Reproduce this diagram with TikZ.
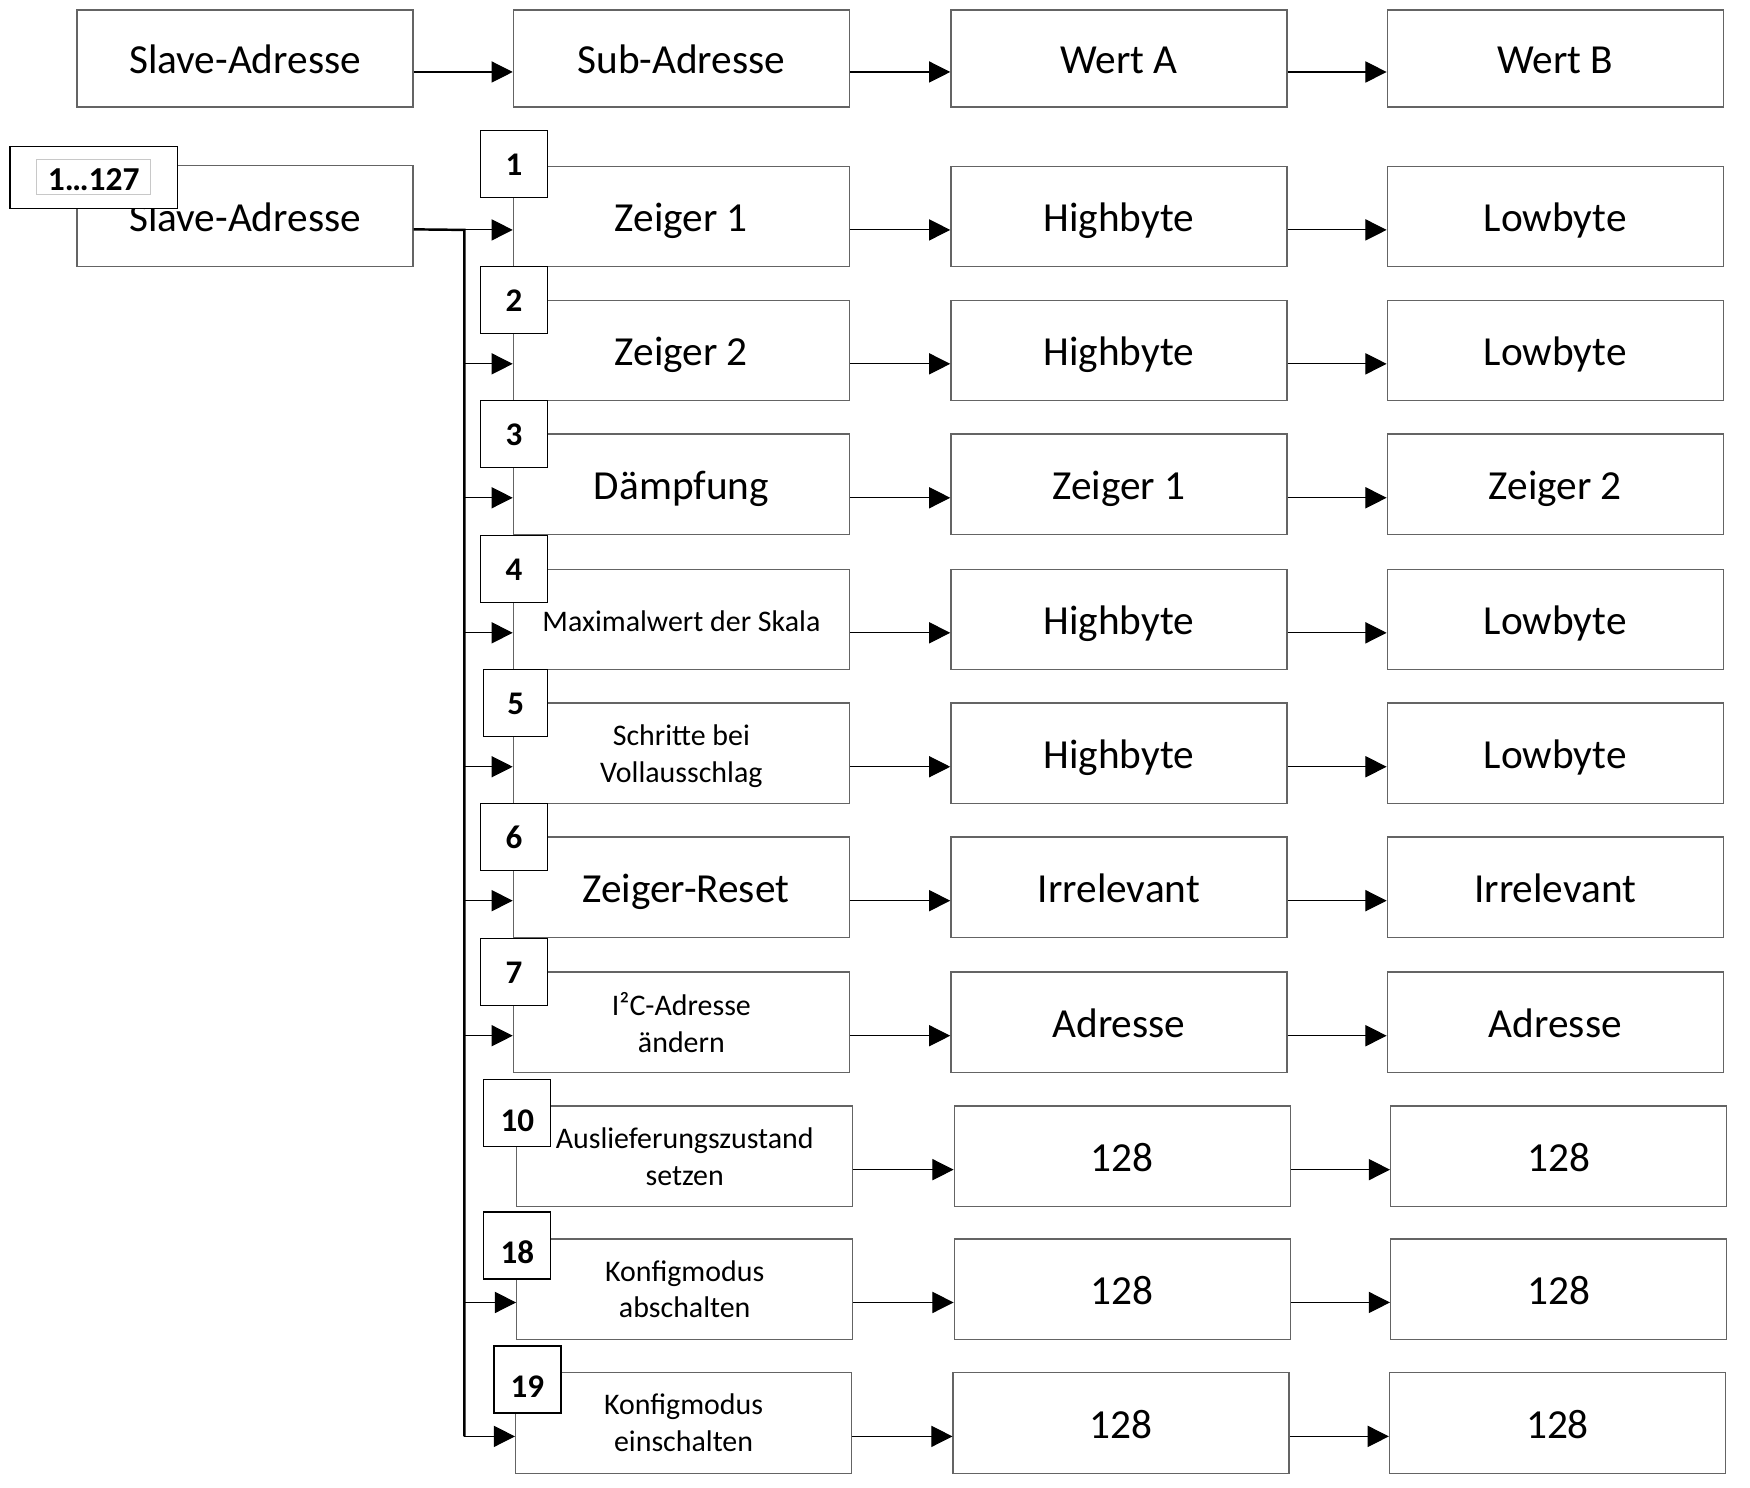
\documentclass[tikz,border=0pt]{standalone}
\usepackage{fontspec}
\setmainfont{Carlito}
\usetikzlibrary{arrows.meta,calc}
\definecolor{boxgray}{RGB}{100,100,100}
\definecolor{lightframe}{RGB}{200,200,200}
\begin{document}
\begin{tikzpicture}[x=0.5pt,y=-0.5pt,
  box/.style={draw=boxgray, line width=0.6pt, fill=white, minimum width=150.5pt, minimum height=45pt, inner sep=0pt, align=center, font=\fontsize{18.5}{22}\selectfont, text height=14.5pt, text depth=1pt},
  hbox/.style={box, minimum height=43.5pt},
  sbox/.style={box, font=\fontsize{13.4}{16.5}\selectfont, text height=, text depth=0pt},
  s1box/.style={box, font=\fontsize{13.4}{16.5}\selectfont, text height=12pt, text depth=1pt},
  numbox/.style={draw=black, line width=0.6pt, fill=white, minimum width=30pt, minimum height=30pt, inner sep=0pt, font=\fontsize{14.8}{16}\selectfont\bfseries, text height=10.5pt, text depth=0pt},
  lownum/.style={text height=16.5pt},
  arr/.style={draw=black, line width=0.5pt, -{Triangle[length=9.5pt,width=9.5pt]}},
  busline/.style={draw=black, line width=1.1pt}
]
\useasboundingbox (0,0) rectangle (1568,1333);

% header
\node[hbox] (h1) at (219.5,52.5) {Slave-Adresse};
\node[hbox] (h2) at (610.5,52.5) {Sub-Adresse};
\node[hbox] (h3) at (1002.5,52.5) {Wert A};
\node[hbox] (h4) at (1393.5,52.5) {Wert B};
\draw[arr] ([yshift=-6pt]h1.east) -- ([yshift=-6pt]h2.west);
\draw[arr] ([yshift=-6pt]h2.east) -- ([yshift=-6pt]h3.west);
\draw[arr] ([yshift=-6pt]h3.east) -- ([yshift=-6pt]h4.west);

% slave address
\node[box] (sa) at (219.5,193.5) {Slave-Adresse};

% rows
\node[box]  (z1) at (610.5,194) {Zeiger 1};
\node[box]  (b1) at (1002.5,194) {Highbyte};
\node[box]  (c1) at (1393.5,194) {Lowbyte};

\node[box]  (z2) at (610.5,314) {Zeiger 2};
\node[box]  (b2) at (1002.5,314) {Highbyte};
\node[box]  (c2) at (1393.5,314) {Lowbyte};

\node[box]  (z3) at (610.5,434) {Dämpfung};
\node[box]  (b3) at (1002.5,434) {Zeiger 1};
\node[box]  (c3) at (1393.5,434) {Zeiger 2};

\node[s1box] (z4) at (610.5,555) {Maximalwert der Skala};
\node[box]  (b4) at (1002.5,555) {Highbyte};
\node[box]  (c4) at (1393.5,555) {Lowbyte};

\node[sbox] (z5) at (610.5,675) {Schritte bei\\Vollausschlag};
\node[box]  (b5) at (1002.5,675) {Highbyte};
\node[box]  (c5) at (1393.5,675) {Lowbyte};

\node[box]  (z6) at (610.5,795) {\hspace{4pt}Zeiger-Reset};
\node[box]  (b6) at (1002.5,795) {Irrelevant};
\node[box]  (c6) at (1393.5,795) {Irrelevant};

\node[sbox] (z7) at (610.5,916) {I²C-Adresse\\ändern};
\node[box]  (b7) at (1002.5,916) {Adresse};
\node[box]  (c7) at (1393.5,916) {Adresse};

\node[sbox] (z10) at (613.5,1036) {Auslieferungszustand\\setzen};
\node[box]  (b10) at (1005.5,1036) {128};
\node[box]  (c10) at (1396.5,1036) {128};

\node[sbox] (z18) at (613.5,1155) {Konfigmodus\\abschalten};
\node[box]  (b18) at (1005.5,1155) {128};
\node[box]  (c18) at (1396.5,1155) {128};

\node[sbox] (z19) at (612.5,1275) {Konfigmodus\\einschalten};
\node[box]  (b19) at (1004.5,1275) {128};
\node[box]  (c19) at (1395.5,1275) {128};

% horizontal arrows
\foreach \r in {1,2,3,4,5,6,7,10,18,19}{
  \draw[arr] ([yshift=-6pt]z\r.east) -- ([yshift=-6pt]b\r.west);
  \draw[arr] ([yshift=-6pt]b\r.east) -- ([yshift=-6pt]c\r.west);
}

% bus
\coordinate (busx) at (416,0);
\foreach \r in {1,2,3,4,5,6,7,10,18,19}{
  \coordinate (a\r) at ([yshift=-6pt]z\r.west);
}
\draw[busline] ([yshift=-6pt]sa.east) -- (busx |- a1) -- (busx |- a19);
\foreach \r in {1,2,3,4,5,6,7,18,19}{
  \draw[arr] (busx |- a\r) -- (a\r);
}

% number boxes
\node[numbox] (n1) at (460.5,147) {1};
\node[numbox] (n2) at (460.5,269) {2};
\node[numbox] (n3) at (460.5,389) {3};
\node[numbox] (n4) at (460.5,510) {4};
\node[numbox, minimum width=28.5pt] (n5) at (462,630) {5};
\node[numbox] (n6) at (460.5,750) {6};
\node[numbox] (n7) at (460.5,871) {7};
\node[numbox, lownum] (n10) at (463.5,997) {10};
\node[numbox, lownum] (n18) at (463.5,1116) {18};
\node[numbox, lownum] (n19) at (472.5,1236) {19};

% range label
\node[draw=black, line width=0.6pt, fill=white, minimum width=75pt, minimum height=28pt, inner sep=0pt] (rng) at (84,159) {};
\node[draw=lightframe, line width=0.5pt, fill=white, minimum width=51pt, minimum height=15.5pt, inner sep=0pt, font=\fontsize{15}{16}\selectfont\bfseries, text height=12pt, text depth=0pt] (rngl) at (84,158.5) {1…127};
\end{tikzpicture}
\end{document}
